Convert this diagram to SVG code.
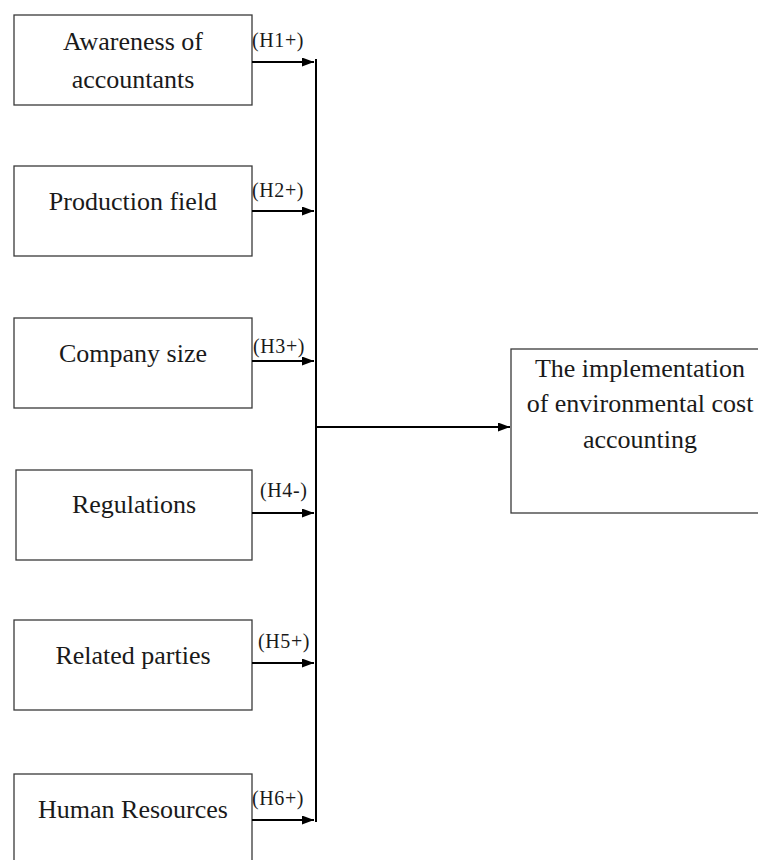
<svg xmlns="http://www.w3.org/2000/svg" width="758" height="860" viewBox="0 0 758 860">
<style>
.box{fill:#fff;stroke:#3a3a3a;stroke-width:1.3}
.ntxt{font-family:'Liberation Serif','DejaVu Serif','Times New Roman',serif;font-size:26px;fill:#1a1a1a;text-anchor:middle}
.lb{font-family:'Liberation Serif','DejaVu Serif','Times New Roman',serif;font-size:20px;letter-spacing:0.6px;fill:#1a1a1a}
.ln{stroke:#000;stroke-width:2;fill:none}
</style>
<defs>
<marker id="ah" viewBox="0 0 12 9" refX="12" refY="4.5" markerWidth="12" markerHeight="9" markerUnits="userSpaceOnUse" orient="auto">
<path d="M0,0 L12,4.5 L0,9 z" fill="#000"/>
</marker>
</defs>
<rect width="758" height="860" fill="#fff"/>
<g id="n1"><rect class="box" x="14" y="15" width="238" height="90"/><text class="ntxt" x="133" y="50">Awareness of</text><text class="ntxt" x="133" y="88">accountants</text></g>
<g id="n2"><rect class="box" x="14" y="166" width="238" height="90"/><text class="ntxt" x="133" y="210">Production field</text></g>
<g id="n3"><rect class="box" x="14" y="318" width="238" height="90"/><text class="ntxt" x="133" y="362">Company size</text></g>
<g id="n4"><rect class="box" x="16" y="470" width="236" height="90"/><text class="ntxt" x="134" y="513">Regulations</text></g>
<g id="n5"><rect class="box" x="14" y="620" width="238" height="90"/><text class="ntxt" x="133" y="664">Related parties</text></g>
<g id="n6"><rect class="box" x="14" y="774" width="238" height="90"/><text class="ntxt" x="133" y="818">Human Resources</text></g>
<g id="target"><rect class="box" x="511" y="349" width="252" height="164"/><text class="ntxt" x="640" y="377">The implementation</text><text class="ntxt" x="640" y="412">of environmental cost</text><text class="ntxt" x="640" y="448">accounting</text></g>
<g id="connectors">
<line class="ln" x1="316" y1="59" x2="316" y2="822" stroke-width="2.5"/>
<line class="ln" x1="252" y1="62" x2="314" y2="62" marker-end="url(#ah)"/>
<line class="ln" x1="252" y1="211" x2="314" y2="211" marker-end="url(#ah)"/>
<line class="ln" x1="252" y1="361" x2="314" y2="361" marker-end="url(#ah)"/>
<line class="ln" x1="252" y1="513" x2="314" y2="513" marker-end="url(#ah)"/>
<line class="ln" x1="252" y1="663" x2="314" y2="663" marker-end="url(#ah)"/>
<line class="ln" x1="252" y1="820" x2="314" y2="820" marker-end="url(#ah)"/>
<line class="ln" x1="316" y1="427" x2="510" y2="427" marker-end="url(#ah)"/>
<text class="lb" x="252" y="47">(H1+)</text>
<text class="lb" x="252" y="197">(H2+)</text>
<text class="lb" x="253" y="353">(H3+)</text>
<text class="lb" x="260" y="497">(H4-)</text>
<text class="lb" x="258" y="648">(H5+)</text>
<text class="lb" x="252" y="805">(H6+)</text>
</g>
</svg>
